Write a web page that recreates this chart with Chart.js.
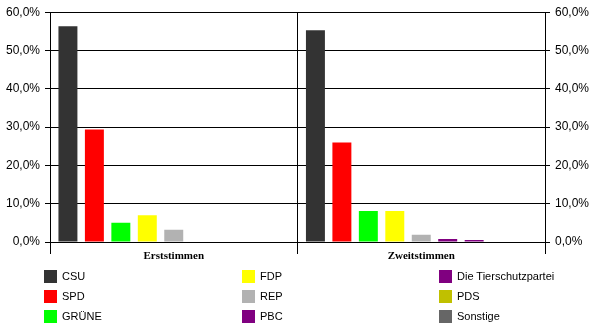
<!DOCTYPE html>
<html>
<head>
<meta charset="utf-8">
<script src="https://cdn.jsdelivr.net/npm/chart.js@4"></script>
<style>
  body { margin: 0; background: #fff; }
  #wrap { position: relative; width: 600px; height: 333px; }
  .item { position: absolute; font: 11px Arial, "Liberation Sans", sans-serif; color: #000; line-height: 13px; white-space: nowrap; }
  .item span.box { position: absolute; left: 0; top: 0; width: 13px; height: 13px; }
  .item span.txt { position: absolute; left: 18px; top: 0; }
</style>
</head>
<body>
<div id="wrap">
  <canvas id="votesChart"></canvas>
  <div id="legend"></div>
</div>
<script>
const categories = ['Erststimmen', 'Zweitstimmen'];  // the two ballots
const parties = ['CSU', 'SPD', 'GRÜNE', 'FDP', 'REP', 'PBC', 'Die Tierschutzpartei', 'PDS', 'Sonstige'];
const erststimmen = [56.3, 29.4, 5.0, 7.0, 3.2, null, null, null, null];  // percent
const zweitstimmen = [55.3, 26.0, 8.1, 8.1, 1.9, 0.8, 0.5, null, null];  // percent
const colors = ['#333333', '#FF0000', '#00FF00', '#FFFF00', '#B2B2B2', '#800080', '#800080', '#C0C000', '#666666'];
const yTicks = [0, 10, 20, 30, 40, 50, 60];

function pct(v) {
    return v.toFixed(1).replace('.', ',') + '%';
}

document.addEventListener('DOMContentLoaded', function () {
    const ctx = document.getElementById('votesChart').getContext('2d');

    const datasets = parties.map(function (name, i) {
        return {
            label: name,
            data: [erststimmen[i], zweitstimmen[i]],
            backgroundColor: colors[i],
            borderWidth: 0,
            categoryPercentage: 0.962,
            barPercentage: 0.717
        };
    });

    const tickFont = { family: 'Arial, "Liberation Sans", sans-serif', size: 12 };

    new Chart(ctx, {
        type: 'bar',
        data: { labels: categories, datasets: datasets },
        options: {
            responsive: true,
            maintainAspectRatio: false,
            animation: false,
            layout: { padding: { top: 10, bottom: 71, left: 0, right: 0 } },
            plugins: {
                legend: { display: false },
                tooltip: { enabled: false }
            },
            scales: {
                x: {
                    grid: { offset: true, color: '#000', lineWidth: 1, tickLength: 12, drawOnChartArea: true },
                    border: { color: '#000', width: 1 },
                    ticks: {
                        color: '#000',
                        padding: -4,
                        font: { family: '"Times New Roman", "Liberation Serif", serif', size: 11, weight: 'bold' }
                    },
                    afterFit: function (scale) { scale.height = 20; }
                },
                y: {
                    position: 'left',
                    min: 0,
                    max: 60,
                    afterBuildTicks: function (scale) { scale.ticks = yTicks.map(v => ({ value: v })); },
                    grid: { color: '#000', lineWidth: 1, tickLength: 5 },
                    border: { color: '#000', width: 1 },
                    ticks: { color: '#000', padding: 5, font: tickFont, callback: v => pct(v) },
                    afterFit: function (scale) { scale.width = 50; }
                },
                y2: {
                    position: 'right',
                    min: 0,
                    max: 60,
                    afterBuildTicks: function (scale) { scale.ticks = yTicks.map(v => ({ value: v })); },
                    grid: { color: '#000', lineWidth: 1, tickLength: 5, drawOnChartArea: false },
                    border: { color: '#000', width: 1 },
                    ticks: { color: '#000', padding: 5, font: tickFont, callback: v => pct(v) },
                    afterFit: function (scale) { scale.width = 55; }
                }
            }
        }
    });

    // legend in three columns, filled column by column
    const colX = [44, 242, 439];
    const rowY = [270, 290, 310];
    const legend = document.getElementById('legend');
    parties.forEach(function (name, i) {
        const item = document.createElement('div');
        item.className = 'item';
        item.style.left = colX[Math.floor(i / 3)] + 'px';
        item.style.top = rowY[i % 3] + 'px';
        item.innerHTML = '<span class="box" style="background:' + colors[i] + '"></span><span class="txt"></span>';
        item.querySelector('.txt').textContent = name;
        legend.appendChild(item);
    });
});
</script>
</body>
</html>
